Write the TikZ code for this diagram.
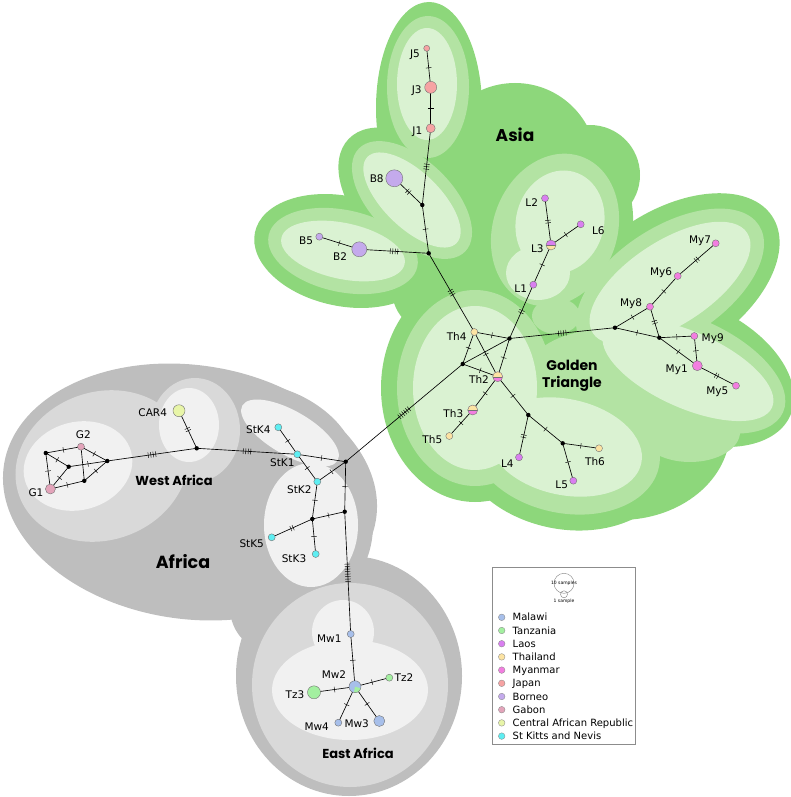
\documentclass[tikz,border=0pt]{standalone}
\usepackage{fontspec}
\setmainfont{DejaVu Sans}
\newfontfamily\regionfont{Poppins}
\usetikzlibrary{decorations.markings}
\pgfdeclarelayer{bg}
\pgfdeclarelayer{edges}
\pgfsetlayers{bg,edges,main}
\definecolor{adark}{HTML}{8DD77B}
\definecolor{amid}{HTML}{B3E3A3}
\definecolor{alight}{HTML}{DAF2D2}
\definecolor{fdark}{HTML}{BEBEBE}
\definecolor{fmid}{HTML}{D9D9D9}
\definecolor{flight}{HTML}{F1F1F1}
\definecolor{cMw}{HTML}{A7BFEA}
\definecolor{cTz}{HTML}{A3F0A0}
\definecolor{cLa}{HTML}{D97FF0}
\definecolor{cTh}{HTML}{FCE3A3}
\definecolor{cMy}{HTML}{F27EE0}
\definecolor{cJp}{HTML}{F6A3A3}
\definecolor{cBo}{HTML}{C4AAEC}
\definecolor{cGa}{HTML}{E3A4BA}
\definecolor{cCA}{HTML}{E8F5A8}
\definecolor{cSK}{HTML}{5EEEF2}
\newcommand{\blobfill}[6]{\fill[#1,rotate around={#6:(#2,#3)}] (#2,#3) ellipse [x radius=#4pt, y radius=#5pt];}
\newcommand{\lk}[3]{\draw[lnk,tk=#3] (#1.center) -- (#2.center);}
\newcommand{\lz}[2]{\draw[lnk] (#1.center) -- (#2.center);}
\begin{document}
\begin{tikzpicture}[x=1pt,y=-1pt,
  hap/.style={circle, draw=black!55, line width=0.4pt, inner sep=0pt, minimum size=#1},
  med/.style={circle, fill=black, inner sep=0pt, minimum size=4.4pt},
  lnk/.style={draw=black, line width=0.65pt},
  tk/.style={postaction={decorate,decoration={markings,mark=at position 0.5 with {\foreach \i in {1,...,#1}{\draw[line width=.45pt,black] ({(\i-(#1+1)/2)*2.5pt},-2.8pt) -- ({(\i-(#1+1)/2)*2.5pt},2.8pt);}}}}},
  lab/.style={font=\fontsize{10.5}{12}\selectfont, inner sep=0pt, anchor=base},
  region/.style={font=\regionfont\bfseries\fontsize{#1}{#1}\selectfont, inner sep=0pt, anchor=base},
  legtext/.style={font=\fontsize{10}{12}\selectfont, inner sep=0pt, anchor=base west},
  legdot/.style={circle, draw=black!45, line width=0.35pt, inner sep=0pt, minimum size=6.6pt}
]
\useasboundingbox (0,0) rectangle (790,797);

\begin{pgfonlayer}{bg}
% ---------- Asia dark ----------
\blobfill{adark}{429}{108}{53}{106}{0}
\blobfill{adark}{412}{200}{88}{54}{-44}
\blobfill{adark}{343}{251}{90}{55}{-12}
\blobfill{adark}{555}{230}{76}{92}{-20}
\blobfill{adark}{515}{165}{82}{82}{0}
\blobfill{adark}{590}{175}{50}{50}{0}
\blobfill{adark}{440}{290}{48}{45}{0}
\blobfill{adark}{482}{252}{34}{34}{0}
\blobfill{adark}{560}{312}{32}{30}{0}
\blobfill{adark}{475}{388}{94}{114}{0}
\blobfill{adark}{565}{447}{112}{82}{-12}
\blobfill{adark}{670}{283}{122}{72}{33}
\blobfill{adark}{688}{370}{112}{68}{-24}
\blobfill{adark}{620}{430}{110}{90}{0}
% ---------- Africa dark ----------
\blobfill{fdark}{190}{492}{188}{127}{-8}
\blobfill{fdark}{290}{433}{70}{38}{-30}
\blobfill{fdark}{311}{525}{62}{78}{0}
\blobfill{fdark}{349}{676}{113}{120}{0}
\blobfill{fdark}{275}{608}{45}{45}{0}
% ---------- Asia medium ----------
\blobfill{amid}{428}{87}{41}{71}{0}
\blobfill{amid}{412}{200}{74}{40}{-44}
\blobfill{amid}{343}{251}{76}{41}{-12}
\blobfill{amid}{555}{230}{62}{78}{-20}
\blobfill{amid}{475}{388}{78}{98}{0}
\blobfill{amid}{565}{447}{96}{66}{-12}
\blobfill{amid}{670}{283}{106}{56}{33}
\blobfill{amid}{688}{370}{104}{52}{-24}
\blobfill{amid}{600}{395}{85}{65}{0}
\blobfill{amid}{690}{432}{50}{30}{0}
\blobfill{amid}{556}{316}{24}{18}{0}
% ---------- Africa medium ----------
\blobfill{fmid}{102}{466}{88}{74}{20}
\blobfill{fmid}{195}{430}{45}{52}{0}
\blobfill{fmid}{350}{685}{98}{102}{0}
% ---------- Asia light ----------
\blobfill{alight}{427}{84}{30}{56}{0}
\blobfill{alight}{412}{200}{62}{28}{-44}
\blobfill{alight}{343}{251}{63}{28}{-12}
\blobfill{alight}{560}{222}{44}{52}{-15}
\blobfill{alight}{538}{273}{32}{27}{0}
\blobfill{alight}{475}{388}{62}{82}{0}
\blobfill{alight}{565}{447}{78}{48}{-12}
\blobfill{alight}{670}{283}{92}{42}{33}
\blobfill{alight}{688}{370}{92}{38}{-24}
% ---------- Africa light ----------
\blobfill{flight}{78}{466}{55}{44}{15}
\blobfill{flight}{189}{425}{30}{37}{0}
\blobfill{flight}{290}{433}{55}{22}{-30}
\blobfill{flight}{311}{525}{47}{62}{0}
\blobfill{flight}{350}{690}{78}{50}{0}
\blobfill{flight}{343}{632}{31}{32}{0}
\end{pgfonlayer}

% ---------- region labels ----------
\node[region=17] (tAsia) at (515,142) {Asia};
\node[region=14] (tGold) at (572,370) {Golden};
\node[region=14] (tTri) at (572,387) {Triangle};
\node[region=13] (tWest) at (174,485) {West Africa};
\node[region=17.5] (tAfr) at (183,568) {Africa};
\node[region=13] (tEast) at (358,758.5) {East Africa};

% ---------- haplotypes ----------
\node[hap=6pt, fill=cJp] (J5) at (426.7,48.3) {};
\node[hap=12pt, fill=cJp] (J3) at (430.7,87.3) {};
\node[hap=9pt, fill=cJp] (J1) at (430.7,128.3) {};
\node[hap=17pt, fill=cBo] (B8) at (394.3,178.3) {};
\node[hap=15pt, fill=cBo] (B2) at (359.3,249.3) {};
\node[hap=7pt, fill=cBo] (B5) at (319.3,236.7) {};
\node[med] (nB) at (422.3,205) {};
\node[med] (nA) at (428.7,253.3) {};
\node[hap=7pt, fill=cLa] (L2) at (545,198.3) {};
\node[hap=7pt, fill=cLa] (L6) at (580.7,224.3) {};
\node[hap=10pt, fill=cTh, path picture={\fill[cLa] (path picture bounding box.north west) rectangle (path picture bounding box.east); \draw[black!55,line width=.3pt] (path picture bounding box.west) -- (path picture bounding box.east);}] (L3) at (551,245) {};
\node[hap=7pt, fill=cLa] (L1) at (533.3,284.7) {};
\node[med] (nL) at (509.5,338.5) {};
\node[med] (nM) at (615,327.7) {};
\node[med] (nN) at (659.3,337.7) {};
\node[hap=7pt, fill=cMy] (My7) at (715.7,243.3) {};
\node[hap=7pt, fill=cMy] (My6) at (677.7,276) {};
\node[hap=7pt, fill=cMy] (My8) at (650,306.7) {};
\node[hap=7pt, fill=cMy] (My9) at (694.3,336) {};
\node[hap=10pt, fill=cMy] (My1) at (697.3,365.7) {};
\node[hap=7pt, fill=cMy] (My5) at (736,385.7) {};
\node[hap=7pt, fill=cTh] (Th4) at (474.3,332) {};
\node[med] (nC) at (462.7,364) {};
\node[hap=10pt, fill=cMy, path picture={\fill[cTh] (path picture bounding box.north west) rectangle (path picture bounding box.east); \draw[black!55,line width=.3pt] (path picture bounding box.west) -- (path picture bounding box.east);}] (Th2) at (497.7,376.7) {};
\node[hap=10pt, fill=cMy, path picture={\fill[cTh] (path picture bounding box.north west) rectangle (path picture bounding box.east); \draw[black!55,line width=.3pt] (path picture bounding box.west) -- (path picture bounding box.east);}] (Th3) at (472.7,410) {};
\node[hap=7pt, fill=cTh] (Th5) at (449.3,436) {};
\node[med] (nD) at (528.3,415) {};
\node[hap=7pt, fill=cLa] (L4) at (519,457.3) {};
\node[med] (nE) at (562.7,443.3) {};
\node[hap=7pt, fill=cTh] (Th6) at (599,448.3) {};
\node[hap=7pt, fill=cLa] (L5) at (573.3,480.7) {};
\node[med] (hub) at (345.7,461.7) {};
\node[hap=12pt, fill=cCA] (CAR4) at (179,410.7) {};
\node[med] (nF) at (196.7,448.3) {};
\node[med] (nG) at (107.3,461) {};
\node[med] (N1) at (45.8,453) {};
\node[med] (N2) at (68.7,466.7) {};
\node[med] (N3) at (84.3,480.8) {};
\node[hap=7pt, fill=cGa] (G2) at (81,446.7) {};
\node[hap=10pt, fill=cGa] (G1) at (50.4,489) {};
\node[hap=7pt, fill=cSK] (StK4) at (278.3,427.3) {};
\node[hap=7pt, fill=cSK] (StK1) at (297.3,454.3) {};
\node[hap=7pt, fill=cSK] (StK2) at (317.3,481.7) {};
\node[med] (nH) at (312.3,519) {};
\node[med] (nI) at (344.7,511.7) {};
\node[hap=7pt, fill=cSK] (StK5) at (271.7,537.3) {};
\node[hap=7pt, fill=cSK] (StK3) at (315.7,554) {};
\node[hap=7pt, fill=cMw] (Mw1) at (350.7,634) {};
\node[hap=12pt, fill=cMw, path picture={\fill[cTz] (path picture bounding box.center) -- ++(-100:8pt) arc[start angle=-100, end angle=-15, radius=8pt] -- cycle;}] (Mw2) at (355,686.7) {};
\node[hap=7pt, fill=cTz] (Tz2) at (389.3,677.7) {};
\node[hap=13pt, fill=cTz] (Tz3) at (314,692.3) {};
\node[hap=7pt, fill=cMw] (Mw4) at (338.3,722.7) {};
\node[hap=11pt, fill=cMw] (Mw3) at (379.3,721) {};

% ---------- connectors ----------
\begin{pgfonlayer}{edges}
\lk{J5}{J3}{1}
\lk{J3}{J1}{1}
\lk{J1}{nB}{3}
\lk{B8}{nB}{2}
\lk{nB}{nA}{1}
\lk{B2}{nA}{4}
\lk{B5}{B2}{1}
\lk{nA}{Th4}{3}
\lk{L2}{L3}{2}
\lk{L3}{L6}{1}
\lk{L3}{L1}{1}
\lk{L1}{nL}{2}
\lk{nL}{nM}{4}
\lk{nM}{My8}{1}
\lk{nM}{nN}{1}
\lk{My8}{nN}{2}
\lk{My8}{My6}{1}
\lk{My6}{My7}{2}
\lk{nN}{My9}{1}
\lk{nN}{My1}{1}
\lk{My9}{My1}{1}
\lk{My1}{My5}{2}
\lk{Th4}{nL}{1}
\lk{Th4}{nC}{1}
\lk{Th4}{Th2}{1}
\lz{nC}{nL}
\lk{nC}{Th2}{1}
\lk{nL}{Th2}{1}
\lk{nC}{hub}{6}
\lk{Th2}{Th3}{1}
\lk{Th3}{Th5}{1}
\lk{Th2}{nD}{1}
\lk{nD}{L4}{2}
\lk{nD}{nE}{1}
\lk{nE}{Th6}{1}
\lk{nE}{L5}{1}
\lk{CAR4}{nF}{2}
\lk{nG}{nF}{4}
\lk{nF}{StK1}{4}
\lk{N1}{G2}{1}
\lk{G2}{nG}{1}
\lk{N1}{N2}{1}
\lk{N1}{G1}{1}
\lz{G2}{N3}
\lk{N2}{nG}{1}
\lk{N2}{G1}{1}
\lk{G1}{N3}{1}
\lk{N3}{nG}{1}
\lk{StK4}{StK1}{1}
\lk{StK1}{hub}{1}
\lk{StK1}{StK2}{1}
\lk{StK2}{hub}{1}
\lk{StK2}{nH}{1}
\lk{nH}{nI}{1}
\lk{nH}{StK5}{2}
\lk{nH}{StK3}{1}
\lk{hub}{nI}{1}
\lk{nI}{Mw1}{8}
\lk{Mw1}{Mw2}{1}
\lk{Mw2}{Tz2}{1}
\lk{Mw2}{Tz3}{1}
\lk{Mw2}{Mw4}{1}
\lk{Mw2}{Mw3}{1}
\end{pgfonlayer}

% ---------- haplotype labels ----------
\node[lab] (lJ5) at (415,57.1) {J5};
\node[lab] (lJ3) at (416.7,93.1) {J3};
\node[lab] (lJ1) at (417.3,134.8) {J1};
\node[lab] (lB8) at (376.7,182.1) {B8};
\node[lab] (lB5) at (306,244.5) {B5};
\node[lab] (lB2) at (340,260.5) {B2};
\node[lab] (lL2) at (531.7,206.1) {L2};
\node[lab] (lL6) at (598.3,234.8) {L6};
\node[lab] (lL3) at (537.3,252.1) {L3};
\node[lab] (lL1) at (520.7,292.8) {L1};
\node[lab] (lMy7) at (700,243.8) {My7};
\node[lab] (lMy6) at (661,275.8) {My6};
\node[lab] (lMy8) at (631,306.1) {My8};
\node[lab] (lMy9) at (712.7,341.1) {My9};
\node[lab] (lMy1) at (676.7,372.8) {My1};
\node[lab] (lMy5) at (717.3,394.5) {My5};
\node[lab] (lTh4) at (456.7,340.5) {Th4};
\node[lab] (lTh2) at (479,383.8) {Th2};
\node[lab] (lTh3) at (453.3,417.8) {Th3};
\node[lab] (lTh5) at (432.3,443.8) {Th5};
\node[lab] (lL4) at (507.3,467.1) {L4};
\node[lab] (lTh6) at (595,465.5) {Th6};
\node[lab] (lL5) at (561.7,488.1) {L5};
\node[lab] (lCAR4) at (152.7,416.5) {CAR4};
\node[lab] (lG2) at (83.3,438.8) {G2};
\node[lab] (lG1) at (36,496.1) {G1};
\node[lab] (lStK4) at (258.3,433.1) {StK4};
\node[lab] (lStK1) at (282.3,466.5) {StK1};
\node[lab] (lStK2) at (299.3,493.1) {StK2};
\node[lab] (lStK5) at (251.7,547.1) {StK5};
\node[lab] (lStK3) at (294,562.8) {StK3};
\node[lab] (lMw1) at (329.3,642.8) {Mw1};
\node[lab] (lMw2) at (334,678.8) {Mw2};
\node[lab] (lTz2) at (404,681.1) {Tz2};
\node[lab] (lTz3) at (295,698.8) {Tz3};
\node[lab] (lMw4) at (316.7,730.5) {Mw4};
\node[lab] (lMw3) at (356.7,727.8) {Mw3};

% ---------- legend ----------
\node[draw=black!45, line width=0.5pt, fill=white, minimum width=143pt, minimum height=176.5pt, inner sep=0pt] (legbox) at (564,655.75) {};
\node[circle, draw=black!50, line width=0.4pt, minimum size=20pt, inner sep=0pt] (lg10) at (564,583.3) {};
\node[circle, draw=black!50, line width=0.4pt, minimum size=7pt, inner sep=0pt] (lg1) at (564,594.3) {};
\node[font=\fontsize{4.5}{5}\selectfont, inner sep=0pt] (lg10t) at (564,583.3) {10 samples};
\node[font=\fontsize{4.5}{5}\selectfont, inner sep=0pt] (lg1t) at (564,601) {1 sample};
\node[legdot, fill=cMw] (d1) at (501.7,617.3) {};
\node[legtext] (e1) at (512.5,620.9) {Malawi};
\node[legdot, fill=cTz] (d2) at (501.7,630.5) {};
\node[legtext] (e2) at (512.5,634.1) {Tanzania};
\node[legdot, fill=cLa] (d3) at (501.7,643.7) {};
\node[legtext] (e3) at (512.5,647.3) {Laos};
\node[legdot, fill=cTh] (d4) at (501.7,656.9) {};
\node[legtext] (e4) at (512.5,660.5) {Thailand};
\node[legdot, fill=cMy] (d5) at (501.7,670.1) {};
\node[legtext] (e5) at (512.5,673.7) {Myanmar};
\node[legdot, fill=cJp] (d6) at (501.7,683.3) {};
\node[legtext] (e6) at (512.5,686.9) {Japan};
\node[legdot, fill=cBo] (d7) at (501.7,696.5) {};
\node[legtext] (e7) at (512.5,700.1) {Borneo};
\node[legdot, fill=cGa] (d8) at (501.7,709.7) {};
\node[legtext] (e8) at (512.5,713.3) {Gabon};
\node[legdot, fill=cCA] (d9) at (501.7,722.9) {};
\node[legtext] (e9) at (512.5,726.5) {Central African Republic};
\node[legdot, fill=cSK] (d10) at (501.7,736.1) {};
\node[legtext] (e10) at (512.5,739.7) {St Kitts and Nevis};
\end{tikzpicture}
\end{document}
